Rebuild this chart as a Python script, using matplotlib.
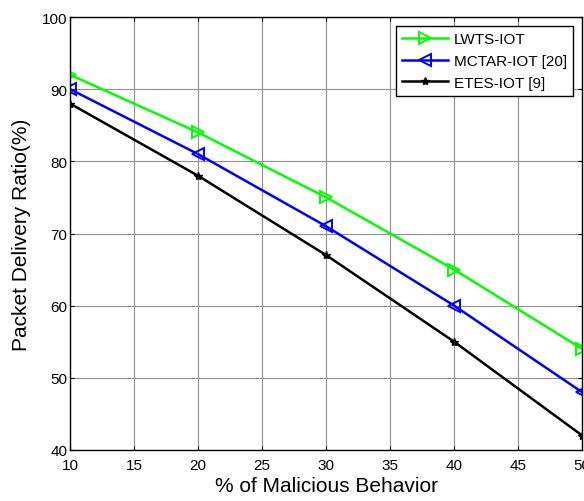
import matplotlib
matplotlib.use("Agg")
import matplotlib.pyplot as plt

plt.rcParams['font.family'] = ['Liberation Sans', 'DejaVu Sans']

malicious = [10, 20, 30, 40, 50]
lwts = [92, 84, 75, 65, 54]
mctar = [90, 81, 71, 60, 48]
etes = [88, 78, 67, 55, 42]

fig = plt.figure(figsize=(5.84, 5.02), dpi=100)
ax = fig.add_axes([0.12, 0.1016, 0.877, 0.8625])

ax.plot(malicious, lwts, color='#00ff00', lw=1.8, marker='>', ms=9,
        mfc='none', mew=1.4, label='LWTS-IOT')
ax.plot(malicious, mctar, color='#0000ff', lw=1.8, marker='<', ms=9,
        mfc='none', mew=1.4, label='MCTAR-IOT [20]')
ax.plot(malicious, etes, color='black', lw=1.8, marker='*', ms=6,
        label='ETES-IOT [9]')

ax.set_xlim(10, 50)
ax.set_ylim(40, 100)
ax.set_xticks(range(10, 51, 5))
ax.set_yticks(range(40, 101, 10))
ax.grid(True, color='#909090', lw=0.8)
ax.tick_params(direction='in', labelsize=11, top=True, right=True, length=3)
ax.tick_params(axis='x', pad=6)
ax.tick_params(axis='y', pad=2)
for s in ax.spines.values():
    s.set_linewidth(1.0)

ax.set_xlabel('% of Malicious Behavior', fontsize=15, labelpad=3)
ax.set_ylabel('Packet Delivery Ratio(%)', fontsize=15, labelpad=8)

leg = ax.legend(loc='upper right', fontsize=11, fancybox=False, framealpha=1,
                edgecolor='black', handlelength=3, handletextpad=0.4,
                borderaxespad=0.6)
leg.get_frame().set_linewidth(1.0)

fig.savefig('out.png', dpi=100)
